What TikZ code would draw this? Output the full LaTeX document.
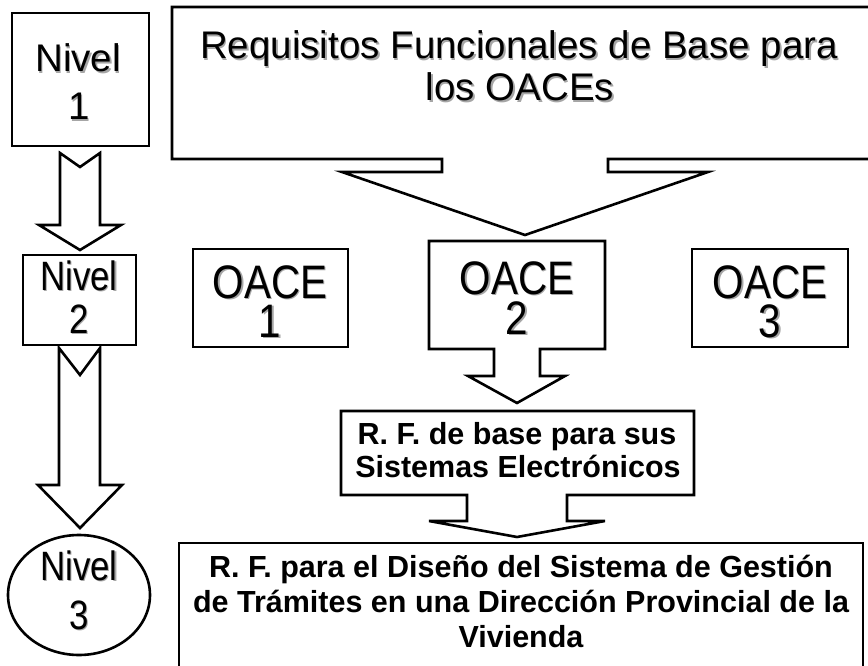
\documentclass[tikz,border=0pt]{standalone}
\usepackage{fontspec}
\setmainfont{Liberation Sans}
\usetikzlibrary{shapes.geometric}
\newcommand{\shd}[2][1]{\scalebox{#1}[1]{\makebox[0pt][l]{\kern1.5pt\raisebox{-1.5pt}{\textcolor{black!35}{#2}}}#2}}
\tikzset{
  box/.style={draw, line width=2.6pt, inner sep=0pt},
  outline/.style={draw, fill=white, line width=2.6pt, line join=miter},
  txt/.style={inner sep=0pt, anchor=base},
  fniv/.style={font=\fontsize{38.5}{46}\selectfont},
  fnivb/.style={font=\fontsize{41}{46}\selectfont},
  freq/.style={font=\fontsize{38.5}{46}\selectfont},
  foace/.style={font=\fontsize{47}{46}\selectfont},
  fbold/.style={font=\fontsize{30.5}{34}\selectfont\bfseries},
}
\begin{document}
\begin{tikzpicture}[x=1pt,y=-1pt]
\useasboundingbox (0,0) rectangle (868,666);
\clip (0,0) rectangle (868,666);

% ---- left column: levels ----
\node[box, minimum width=137pt, minimum height=133pt] (n1) at (80.5,79.5) {};
\node[txt, fniv] (n1a) at (78,72) {\shd{Nivel}};
\node[txt, fniv] (n1b) at (79,120) {\shd{1}};

\coordinate (a1tip) at (80,250);
\draw[outline] (60,153) -- (80,167) -- (100,153) -- (100,225) -- (121,225) -- (a1tip) -- (39,225) -- (60,225) -- cycle;

\node[box, minimum width=113pt, minimum height=90pt] (n2) at (79.5,300) {};
\node[txt, fnivb] (n2a) at (79,290) {\shd[0.85]{Nivel}};
\node[txt, fnivb] (n2b) at (79,333) {\shd[0.85]{2}};

\coordinate (a2tip) at (80,528);
\draw[outline] (59,348) -- (80,375) -- (100,348) -- (100,485) -- (122,485) -- (a2tip) -- (38,485) -- (59,485) -- cycle;

\node[box, ellipse, minimum width=142pt, minimum height=120pt] (n3) at (79,595) {};
\node[txt, fnivb] (n3a) at (79,580) {\shd[0.85]{Nivel}};
\node[txt, fnivb] (n3b) at (79,629) {\shd[0.85]{3}};

% ---- top callout ----
\coordinate (reqtip) at (525,235);
\draw[outline] (172,7) -- (875,7) -- (875,159) -- (608,159) -- (608,172) -- (708,172) -- (reqtip) -- (342,172) -- (442,172) -- (442,159) -- (172,159) -- cycle;
\node[txt, freq] (req1) at (519,59) {\shd{Requisitos Funcionales de Base para}};
\node[txt, freq] (req2) at (520,101) {\shd{los OACEs}};

% ---- OACE boxes ----
\node[box, minimum width=155pt, minimum height=98pt] (o1) at (270.5,298) {};
\node[txt, foace] at (270,298) {\shd[0.86]{OACE}};
\node[txt, foace] at (270,337) {\shd[0.86]{1}};

\coordinate (o2tip) at (517,403);
\draw[outline] (429,241) -- (605,241) -- (605,349) -- (540,349) -- (540,376) -- (565,376) -- (o2tip) -- (468,376) -- (494,376) -- (494,349) -- (429,349) -- cycle;
\node[txt, foace] at (517,294) {\shd[0.86]{OACE}};
\node[txt, foace] at (517,334) {\shd[0.86]{2}};

\node[box, minimum width=156pt, minimum height=98pt] (o3) at (770,298) {};
\node[txt, foace] at (770,298) {\shd[0.86]{OACE}};
\node[txt, foace] at (770,337) {\shd[0.86]{3}};

% ---- R.F. callout ----
\coordinate (rftip) at (517,537);
\draw[outline] (341,411) -- (694,411) -- (694,495) -- (567,495) -- (567,521) -- (605,521) -- (rftip) -- (429,521) -- (467,521) -- (467,495) -- (341,495) -- cycle;
\node[txt, fbold] at (517,444) {R. F. de base para sus};
\node[txt, fbold] at (518,477) {Sistemas Electrónicos};

% ---- bottom box ----
\draw[outline] (179,680) -- (179,543) -- (863,543) -- (863,680);
\node[txt, fbold] at (521,577) {R. F. para el Diseño del Sistema de Gestión};
\node[txt, fbold] at (521,612) {de Trámites en una Dirección Provincial de la};
\node[txt, fbold] at (521,647) {Vivienda};
\end{tikzpicture}
\end{document}
